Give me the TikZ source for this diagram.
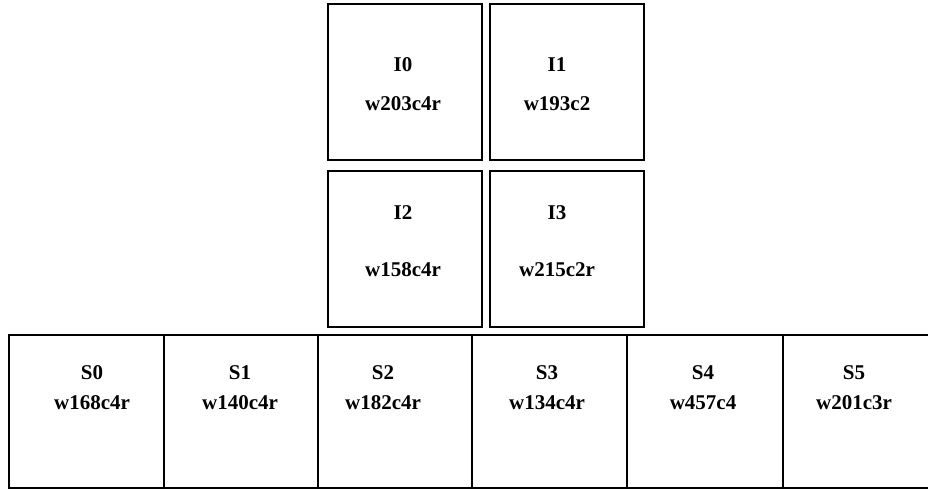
\documentclass[tikz,border=0pt]{standalone}
\usepackage{fontspec}
\setmainfont{Liberation Serif}
\usetikzlibrary{positioning}
\tikzset{
  cellbox/.style={draw=black, line width=1.8pt, inner sep=0pt, anchor=north west},
  celltext/.style={font=\bfseries\fontsize{21}{25}\selectfont, inner sep=0pt},
}

\begin{document}
\begin{tikzpicture}[x=1pt,y=-1pt]
  \useasboundingbox (0,0) rectangle (928,488);
  % upper blocks I0..I3
  \foreach \n/\xa/\ya/\tx/\ty/\tw/\w in {0/327/3/403/104/65/w203c4r,
                                        1/489/3/557/104/65/w193c2,
                                        2/327/170/403/270/213/w158c4r,
                                        3/489/170/557/270/213/w215c2r}
    {\node[cellbox,minimum width=154pt,minimum height=156pt] (I\n) at (\xa,\ya) {};
     \node[celltext] (I\n name) at (\tx,\tw) {I\n};
     \node[celltext] (I\n w) at (\tx,\ty) {\w};}

  % lower row S0..S5, the last one runs off the right edge
  \foreach \n/\xa/\cw/\tx/\w in {0/8/155/92/w168c4r,
                                 1/163/154/240/w140c4r,
                                 2/317/154/383/w182c4r,
                                 3/471/155/547/w134c4r,
                                 4/626/156/703/w457c4,
                                 5/782/152/854/w201c3r}
    {\node[cellbox,minimum width=\cw pt,minimum height=153pt] (S\n) at (\xa,334) {};
     \node[celltext] (S\n name) at (\tx,373) {S\n};
     \node[celltext] (S\n w) at (\tx,403) {\w};}
\end{tikzpicture}
\end{document}
